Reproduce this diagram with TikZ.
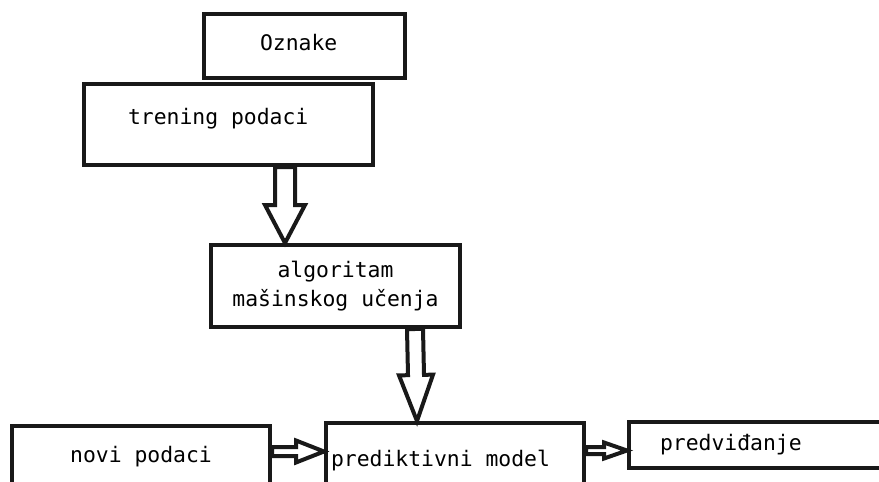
\documentclass[tikz,border=0pt]{standalone}
\usepackage{fontspec}
\setmonofont{DejaVu Sans Mono}
\usetikzlibrary{calc}

\tikzset{
  box/.style={draw=black!90, line width=4pt, rectangle, inner sep=0pt,
    font=\ttfamily\fontsize{21.4}{29}\selectfont},
  blockarrow/.style={draw=black!90, line width=4pt, line join=miter},
}

% hollow block arrow: start, end, shaft half width, head half width, head length
\newcommand{\hollowarrow}[5]{%
  \coordinate (hb) at ($#2!#5!#1$);
  \draw[blockarrow] ($#1!#3!90:#2$) -- ($(hb)!#3!90:#2$) -- ($(hb)!#4!90:#2$)
    -- #2 -- ($(hb)!#4!-90:#2$) -- ($(hb)!#3!-90:#2$) -- ($#1!#3!-90:#2$) -- cycle;
}

\begin{document}
\begin{tikzpicture}[x=1pt, y=-1pt]
      \useasboundingbox (0,0) rectangle (879,482);
      \clip (0,0) rectangle (879,482);
      \node[box, minimum width=201pt, minimum height=64pt, text width=89pt, align=flush left,
        text height=16pt, text depth=8pt] (oznake) at (304.5,46) {Oznake};
      \node[box, minimum width=289pt, minimum height=81pt, text width=201pt, align=flush left,
        text height=16pt, text depth=17pt] (trening) at (228.5,124.5) {trening podaci};
      \node[box, minimum width=249pt, minimum height=82pt, align=center]
        (algoritam) at (335.5,286) {algoritam\\mašinskog učenja};
      \node[box, anchor=north west, minimum width=258pt, minimum height=62pt]
        (novi) at (10,424) {novi podaci};
      \node[box, anchor=north west, minimum width=258pt, minimum height=76pt,
        text width=248pt, align=flush left] (model) at (324,421) {prediktivni model};
      \node[box, anchor=north west, minimum width=280pt, minimum height=46pt,
        text width=218pt, align=flush left] (predvidjanje) at (627,420) {predviđanje};
      % arrow ends
      \coordinate (a1s) at ($(trening.south)+(56.5,0)$);
      \coordinate (a1e) at ($(algoritam.north)+(-50.5,0)$);
      \coordinate (a2s) at ($(algoritam.south)+(79.5,0)$);
      \coordinate (a2e) at ($(model.north)+(-38,0)$);
      \coordinate (a3s) at ($(novi.east)+(0,-5.5)$);
      \coordinate (a3e) at ($(model.west)+(0,-9.5)$);
      \coordinate (a4s) at ($(model.east)+(0,-10.5)$);
      \coordinate (a4e) at ($(predvidjanje.west)+(0,5.5)$);
      \hollowarrow{(a1s)}{(a1e)}{10pt}{20pt}{38pt}
      \hollowarrow{(a2s)}{(a2e)}{8pt}{17pt}{46pt}
      \hollowarrow{(a3s)}{(a3e)}{4.5pt}{11pt}{28pt}
      \hollowarrow{(a4s)}{(a4e)}{3.5pt}{8pt}{23pt}
    \end{tikzpicture}
\end{document}
